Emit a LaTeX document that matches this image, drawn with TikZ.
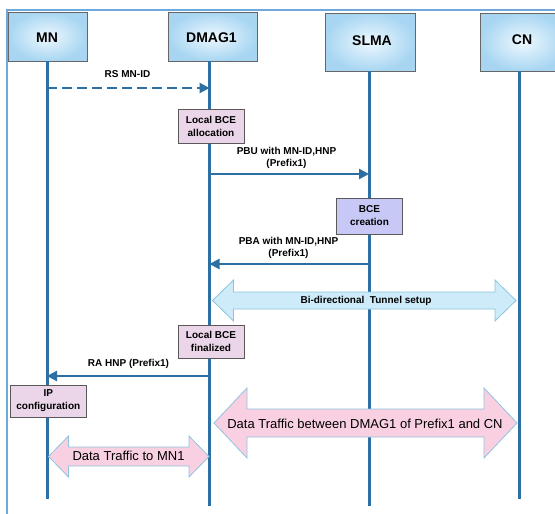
\documentclass[tikz,border=0pt]{standalone}
\usepackage{fontspec}
\setmainfont{Liberation Sans}
\usetikzlibrary{arrows.meta}
\definecolor{lifec}{HTML}{2B6FA3}
\definecolor{framec}{HTML}{6FA8DC}
\definecolor{hdrin}{HTML}{EEF8FE}
\definecolor{hdrout}{HTML}{A8D6F2}
\definecolor{boxpink}{HTML}{EAD6E8}
\definecolor{boxlav}{HTML}{C8C8F6}
\definecolor{arrpink}{HTML}{F9D0E2}
\definecolor{arrblue}{HTML}{CDEBF8}
\definecolor{arredge}{HTML}{8EC4DE}
\newcommand\darrow[7]{\draw[#7] (#1,#3) -- ({#1+#6},{#3-#4}) -- ({#1+#6},{#3-#5}) -- ({#2-#6},{#3-#5}) -- ({#2-#6},{#3-#4}) -- (#2,#3) -- ({#2-#6},{#3+#4}) -- ({#2-#6},{#3+#5}) -- ({#1+#6},{#3+#5}) -- ({#1+#6},{#3+#4}) -- cycle;}
\tikzset{
  hdr/.style={draw=black!60, line width=0.8pt, inner color=hdrin, outer color=hdrout, inner sep=0pt},
  hdrtxt/.style={font=\fontsize{14}{16}\selectfont\bfseries, inner sep=0pt},
  life/.style={draw=lifec, line width=3pt},
  msg/.style={draw=lifec, line width=2.5pt, -{Triangle[length=10pt,width=10pt]}},
  lbl/.style={font=\fontsize{10}{12}\selectfont\bfseries, align=center, inner sep=0pt},
  actbox/.style={draw=black!65, line width=0.8pt, font=\fontsize{10}{13}\selectfont\bfseries, align=center, inner sep=0pt},
  bigtxt/.style={font=\fontsize{13}{15}\selectfont, inner sep=0pt},
  pinkarr/.style={fill=arrpink, draw=arredge, line width=0.8pt},
  bluearr/.style={fill=arrblue, draw=arredge, line width=0.8pt}
}
\begin{document}
\begin{tikzpicture}[x=1pt,y=-1pt]
\useasboundingbox (0,0) rectangle (555,514);
% frame
\draw[framec, line width=1.5pt] (7,514) -- (7,10) -- (560,10);
% headers
\node[hdr, minimum width=79pt, minimum height=49pt] (mn) at (47.5,36.5) {};
\node[hdrtxt] (mnt) at (47,38) {MN};
\node[hdr, minimum width=89pt, minimum height=49pt] (dmag) at (212.5,36.5) {};
\node[hdrtxt] (dmagt) at (211.5,38) {DMAG1};
\node[hdr, minimum width=90pt, minimum height=58pt] (slma) at (370,42) {};
\node[hdrtxt] (slmat) at (372,41) {SLMA};
\node[hdr, minimum width=86pt, minimum height=58pt] (cn) at (523,42) {};
\node[hdrtxt] (cnt) at (522,40) {CN};
% lifeline ends
\coordinate (mnA) at (47,61);    \coordinate (mnB) at (47,499);
\coordinate (dmA) at (209.5,61); \coordinate (dmB) at (209.5,506);
\coordinate (slA) at (369,71);   \coordinate (slB) at (369,506);
\coordinate (cnA) at (519,71);   \coordinate (cnB) at (519,499);
\draw[life] (mnA) -- (mnB);
\draw[life] (dmA) -- (dmB);
\draw[life] (slA) -- (slB);
\draw[life] (cnA) -- (cnB);
% double arrows (behind boxes)
\darrow{212.5}{516}{300.5}{20.5}{8.5}{21}{bluearr}
\darrow{214}{517}{423}{35}{14}{33}{pinkarr}
\darrow{48.5}{209}{456.5}{20.5}{9.5}{20}{pinkarr}
\node[lbl] (tun) at (366,301) {Bi-directional\ \ Tunnel setup};
\node[bigtxt] (dt1) at (365,424) {Data Traffic between DMAG1 of Prefix1 and CN};
\node[bigtxt] (dt2) at (128.5,456) {Data Traffic to MN1};
% RS
\coordinate (rs1) at (47,88); \coordinate (rs2) at (209.5,88);
\draw[msg, dashed, dash pattern=on 10pt off 5pt] (rs1) -- (rs2);
\node[lbl] (rsl) at (127.5,74) {RS MN-ID};
% local BCE allocation
\node[actbox, fill=boxpink, minimum width=66pt, minimum height=34pt] (lba) at (211,126) {Local BCE\\allocation};
% PBU
\coordinate (pbu1) at (209.5,174); \coordinate (pbu2) at (369,174);
\draw[msg] (pbu1) -- (pbu2);
\node[lbl] (pbul) at (286.5,157.5) {PBU with MN-ID,HNP\\(Prefix1)};
% BCE creation
\node[actbox, fill=boxlav, minimum width=66pt, minimum height=36pt] (bcec) at (369.5,216) {BCE\\creation};
% PBA
\coordinate (pba1) at (369,264); \coordinate (pba2) at (209.5,264);
\draw[msg] (pba1) -- (pba2);
\node[lbl] (pbal) at (288.5,247.5) {PBA with MN-ID,HNP\\(Prefix1)};
% local BCE finalized
\node[actbox, fill=boxpink, minimum width=66pt, minimum height=33pt] (lbf) at (211,341.5) {Local BCE\\finalized};
% RA
\coordinate (ra1) at (209.5,376); \coordinate (ra2) at (47,376);
\draw[msg] (ra1) -- (ra2);
\node[lbl] (ral) at (128.5,364) {RA HNP (Prefix1)};
% IP configuration
\node[actbox, fill=boxpink, minimum width=75.5pt, minimum height=32pt] (ipc) at (48.3,401) {IP\\configuration};
\end{tikzpicture}
\end{document}
